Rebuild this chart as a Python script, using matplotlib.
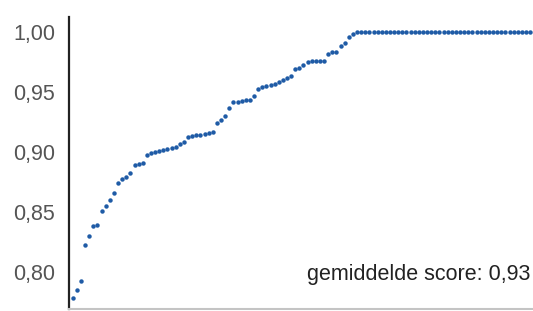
import matplotlib
matplotlib.use("Agg")
import matplotlib.pyplot as plt
from matplotlib.ticker import FixedLocator, FuncFormatter

# sorted scores
rising_scores = [
    0.778, 0.785, 0.7925, 0.822, 0.830, 0.838, 0.839, 0.851, 0.8545, 0.860,
    0.866, 0.874, 0.877, 0.879, 0.882, 0.889, 0.890, 0.8906, 0.8975, 0.8994,
    0.9003, 0.9008, 0.9017, 0.9025, 0.903, 0.904, 0.9064, 0.9086, 0.9128, 0.9136,
    0.914, 0.914, 0.9147, 0.9156, 0.917, 0.9244, 0.9267, 0.930, 0.9369, 0.9414,
    0.942, 0.9425, 0.943, 0.943, 0.9467, 0.9525, 0.954, 0.955, 0.9555, 0.9565,
    0.958, 0.960, 0.962, 0.963, 0.969, 0.970, 0.9725, 0.975, 0.976, 0.976,
    0.976, 0.976, 0.982, 0.983, 0.9836, 0.988, 0.9906, 0.996, 0.998,
]
plateau_scores = [1.0] * 43
scores = rising_scores + plateau_scores
positions = list(range(len(scores)))

y_ticks = [0.80, 0.85, 0.90, 0.95, 1.00]
annotation = "gemiddelde score: 0,93"

plt.rcParams['font.family'] = ['Liberation Sans', 'DejaVu Sans']

fig = plt.figure(figsize=(5.33, 3.11), dpi=100)
ax = fig.add_axes([69 / 533, 1 - 309 / 311, 1 - 69 / 533, (309 - 17) / 311])

ax.plot(positions, scores, linestyle='none', marker='o', markersize=3.2,
        color='#1f5ba6', markeredgewidth=0)

ax.set_xlim(-0.9, 111.7)
ax.set_ylim(0.769, 1.0125)

ax.yaxis.set_major_locator(FixedLocator(y_ticks))
ax.yaxis.set_major_formatter(FuncFormatter(lambda v, p: f"{v:.2f}".replace('.', ',')))
ax.set_xticks([])
ax.tick_params(axis='y', length=0, pad=10, labelsize=15.5, labelcolor='#555555')

for s in ['top', 'right']:
    ax.spines[s].set_visible(False)
ax.spines['left'].set_color('#222222')
ax.spines['left'].set_linewidth(1.6)
ax.spines['bottom'].set_color('#c4c4c4')
ax.spines['bottom'].set_linewidth(1.5)

fig.text(530 / 533, 1 - 280 / 311, annotation, ha='right', va='baseline',
         fontsize=15.5, color='#222222')

fig.savefig("out.png", dpi=100)
